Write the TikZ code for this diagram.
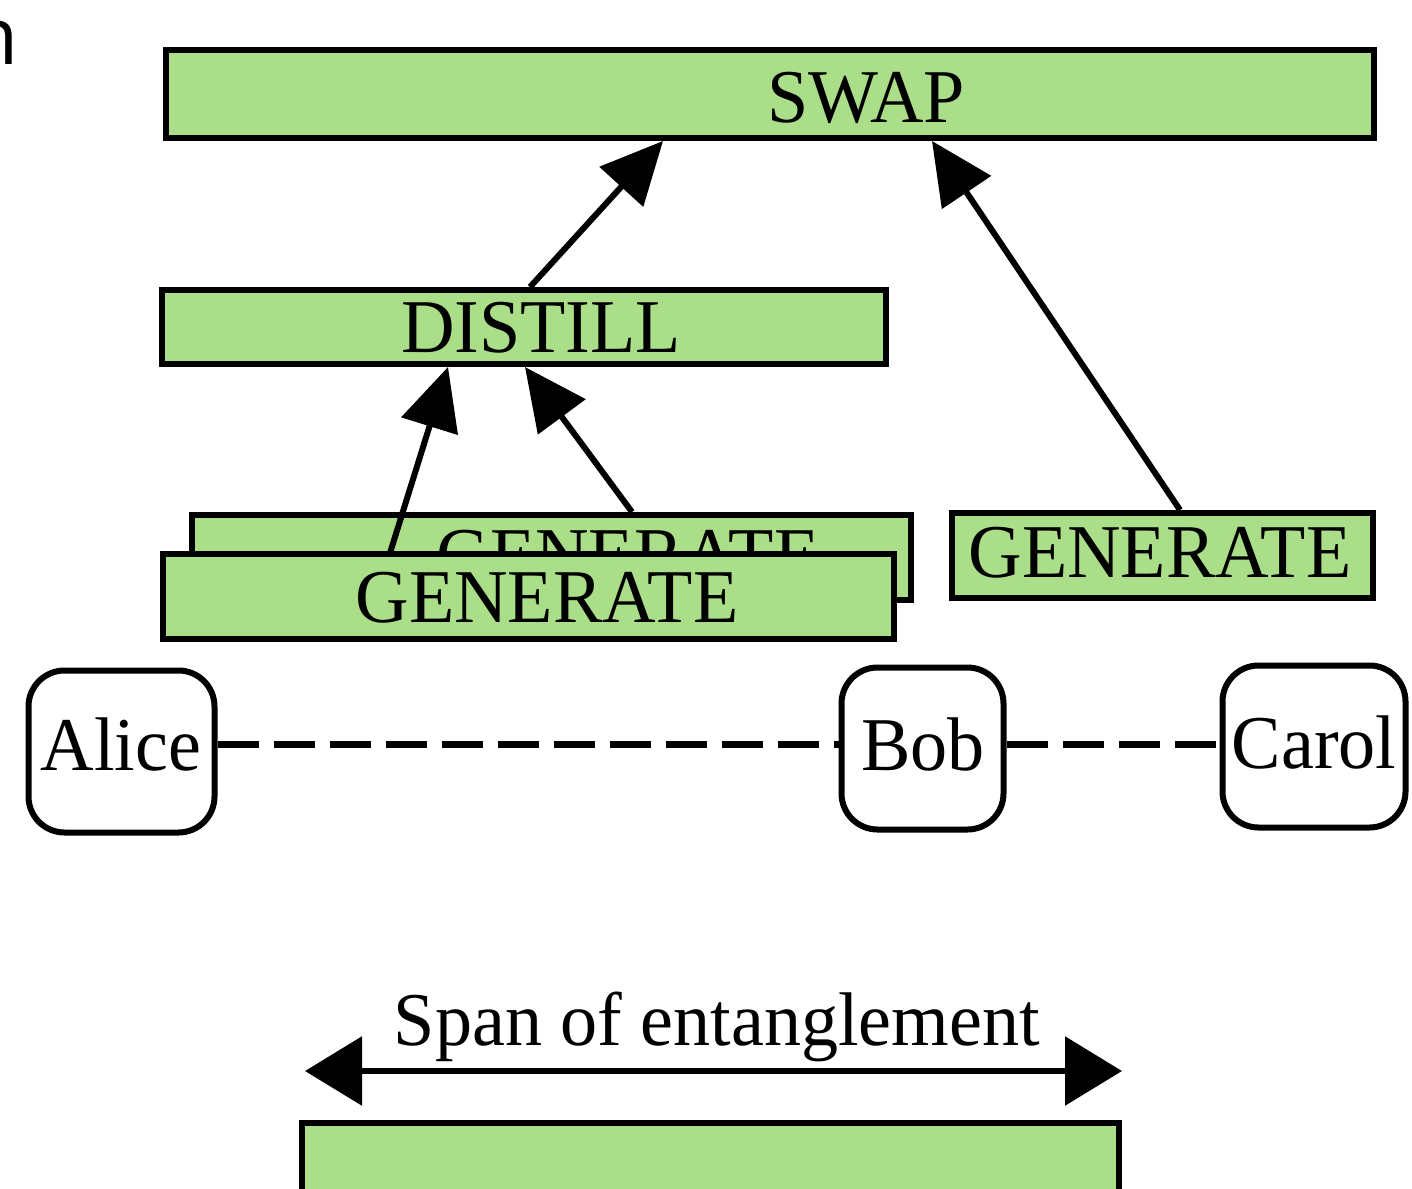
\documentclass[tikz,border=0pt]{standalone}
\usepackage{fontspec}
\setmainfont[FakeStretch=0.975]{Liberation Serif}
\newfontfamily\cutsans{Open Sans}
\usetikzlibrary{arrows.meta}
\definecolor{opgreen}{RGB}{170,222,136}
\tikzset{
  opbox/.style={draw=black, fill=opgreen, line width=6pt, inner sep=0pt},
  hostbox/.style={draw=black, fill=white, line width=6pt, rounded corners=36pt, inner sep=0pt},
  lbl/.style={inner sep=0pt, font=\fontsize{76}{80}\selectfont},
  dep/.style={line width=6pt, -{Triangle[length=62pt, width=58pt]}},
  link/.style={line width=7pt, dash pattern=on 41pt off 15pt}
}
\begin{document}
\begin{tikzpicture}[x=1pt, y=-1pt]
  \useasboundingbox (0,0) rectangle (1412,1188);
  \clip (0,0) rectangle (1412,1188);

  % fragment of a word cut at the left edge
  \node[anchor=base east, inner sep=0pt, font=\fontsize{80}{80}\cutsans] (cut) at (19,65) {n};

  % operation boxes
  \node[opbox, minimum width=1208pt, minimum height=88pt] (swap) at (770,94) {};
  \node[lbl, anchor=base] (swaptxt) at (866,122) {SWAP};

  \node[opbox, minimum width=724pt, minimum height=74pt] (distill) at (524,327) {};
  \node[lbl, anchor=base] (distilltxt) at (541,352) {DISTILL};

  \node[opbox, minimum width=719pt, minimum height=85pt] (genback) at (551.5,557.5) {};
  \node[lbl, anchor=base] (genbacktxt) at (628,580) {GENERATE};

  \node[opbox, minimum width=421pt, minimum height=85pt] (genright) at (1162.5,555.5) {};
  \node[lbl, anchor=base] (genrighttxt) at (1160,577) {GENERATE};

  \node[opbox, minimum width=731pt, minimum height=85pt] (genfront) at (528.5,596.5) {};
  \node[lbl, anchor=base] (genfronttxt) at (547,622) {GENERATE};

  % dependencies
  \draw[dep] ([xshift=6pt]distill.north) -- ([xshift=-107pt]swap.south);
  \draw[dep] ([xshift=17.5pt]genright.north) -- ([xshift=162pt]swap.south);
  \draw[dep] ([xshift=-138.5pt, yshift=-2pt]genfront.north) -- ([xshift=-76pt]distill.south);
  \draw[dep] ([xshift=80.5pt]genback.north) -- ([xshift=1pt]distill.south);

  % hosts
  \node[hostbox, minimum width=186pt, minimum height=162pt] (alice) at (121.5,751.5) {};
  \node[lbl, anchor=base] (alicetxt) at (121,770) {Alice};
  \node[hostbox, minimum width=162pt, minimum height=162pt] (bob) at (922.5,748.5) {};
  \node[lbl, anchor=base] (bobtxt) at (923,770) {Bob};
  \node[hostbox, minimum width=183pt, minimum height=162pt] (carol) at (1314,746.5) {};
  \node[lbl, anchor=base] (caroltxt) at (1314,768) {Carol};

  \draw[link] ([yshift=7.5pt]alice.east) -- ([yshift=4.5pt]bob.west);
  \draw[link] ([yshift=4.5pt]bob.east) -- ([yshift=2.5pt]carol.west);

  % legend
  \coordinate (spanL) at (305,1071);
  \coordinate (spanR) at (1122,1071);
  \draw[line width=6pt, {Triangle[length=57pt, width=68pt]}-{Triangle[length=57pt, width=68pt]}] (spanL) -- (spanR);
  \node[lbl, anchor=base] (spantxt) at (717,1045) {Span of entanglement};
  \node[opbox, minimum width=817pt, minimum height=140pt, anchor=north] (legendbox) at (710,1120) {};
\end{tikzpicture}
\end{document}
